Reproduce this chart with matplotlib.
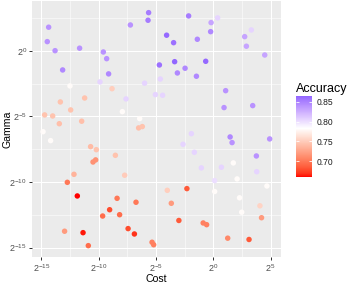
import numpy as np
import matplotlib
matplotlib.use('Agg')
import matplotlib.pyplot as plt
from matplotlib.colors import ListedColormap, Normalize
from matplotlib.ticker import FixedLocator, FuncFormatter

# grid search results, cost and gamma stored as log2 exponents
log2_cost = [-14.36, -14.48, -13.80, -11.66, -9.59, -9.30, -7.23, -5.64, -5.69, -2.15,
             0.38, -0.19, -0.23, -4.07, -3.46, -1.39, 2.74, 3.32, 2.89, 4.49,
             -4.70, -3.37, -0.66, -13.14, -12.50, -9.13, -9.88, -8.83, -11.22, -13.34,
             -12.44, -14.71, -14.01, -13.43, -11.48, -7.61, -7.93, -5.99, -5.05, -6.42,
             -6.51, -6.19, -2.46, -3.13, -1.47, -4.62, -4.42, 1.08, 0.94, 3.44,
             -14.85, -14.19, -10.70, -10.20, -10.49, -10.26, -8.54, -12.15, -12.73, -7.73,
             -1.91, -2.64, 1.47, 1.64, 4.92, -1.65, 3.76, 1.75, -1.04, 0.71,
             3.79, 2.08, 0.12, -2.30, -4.01, 0.12, 4.68, -11.86, -8.39, -6.74,
             -9.04, -9.65, -8.17, -12.97, -11.36, -10.90, -7.43, -6.88, -5.34, -5.20,
             -3.66, -3.00, -0.88, -0.58, 1.26, 3.12, 2.29, 2.48, 4.07, 4.21]
log2_gamma = [1.81, 0.71, 0.02, 0.21, -0.08, -0.59, 1.98, 2.92, 2.34, 2.67,
              2.52, 2.16, 1.47, 1.20, 0.63, 0.89, 1.09, 1.60, 0.36, -0.31,
              -1.07, -0.82, -0.79, -1.45, -2.67, -1.75, -2.36, -2.88, -3.59, -3.89,
              -4.50, -4.88, -4.96, -5.55, -5.36, -3.66, -4.63, -2.46, -3.33, -5.16,
              -5.87, -5.77, -1.32, -1.68, -1.93, -2.14, -3.38, -3.03, -4.32, -4.17,
              -6.16, -6.84, -7.30, -7.53, -8.47, -8.31, -7.96, -9.41, -10.02, -9.48,
              -6.31, -7.12, -6.56, -6.99, -6.71, -7.73, -8.01, -8.54, -8.92, -8.87,
              -9.21, -9.76, -9.89, -10.50, -10.63, -10.72, -10.30, -11.06, -11.24, -11.54,
              -12.11, -12.59, -12.49, -13.75, -13.86, -14.85, -13.55, -13.96, -14.59, -14.78,
              -11.62, -12.93, -13.12, -13.25, -14.28, -14.38, -11.20, -12.30, -11.81, -12.72]
accuracy = [0.84, 0.84, 0.84, 0.84, 0.84, 0.84, 0.84, 0.852, 0.852, 0.852,
            0.805, 0.83, 0.845, 0.862, 0.858, 0.845, 0.83, 0.805, 0.83, 0.83,
            0.858, 0.864, 0.862, 0.845, 0.78, 0.845, 0.805, 0.752, 0.745, 0.745,
            0.745, 0.745, 0.745, 0.742, 0.742, 0.805, 0.78, 0.805, 0.805, 0.78,
            0.742, 0.745, 0.845, 0.845, 0.845, 0.805, 0.805, 0.84, 0.84, 0.84,
            0.78, 0.78, 0.74, 0.745, 0.715, 0.715, 0.745, 0.735, 0.70, 0.75,
            0.805, 0.805, 0.845, 0.84, 0.84, 0.805, 0.84, 0.78, 0.805, 0.805,
            0.805, 0.78, 0.80, 0.685, 0.752, 0.78, 0.78, 0.661, 0.70, 0.70,
            0.68, 0.695, 0.695, 0.72, 0.664, 0.695, 0.68, 0.67, 0.705, 0.705,
            0.72, 0.685, 0.705, 0.705, 0.71, 0.685, 0.78, 0.78, 0.755, 0.72]
x_ticks = [-15, -10, -5, 0, 5]
y_ticks = [-15, -10, -5, 0]
acc_ticks = [0.70, 0.75, 0.80, 0.85]
midpoint = 0.783


def srgb_to_lab(rgb):
    rgb = np.asarray(rgb, float)
    lin = np.where(rgb <= 0.04045, rgb / 12.92, ((rgb + 0.055) / 1.055) ** 2.4)
    M = np.array([[0.4124564, 0.3575761, 0.1804375],
                  [0.2126729, 0.7151522, 0.0721750],
                  [0.0193339, 0.1191920, 0.9503041]])
    xyz = M @ lin / np.array([0.95047, 1.0, 1.08883])
    d = 6 / 29
    f = np.where(xyz > d ** 3, np.cbrt(xyz), xyz / (3 * d ** 2) + 4 / 29)
    return np.array([116 * f[1] - 16, 500 * (f[0] - f[1]), 200 * (f[1] - f[2])])


def lab_to_srgb(lab):
    L, a, b = lab
    fy = (L + 16) / 116
    f = np.array([fy + a / 500, fy, fy - b / 200])
    d = 6 / 29
    xyz = np.where(f > d, f ** 3, 3 * d ** 2 * (f - 4 / 29)) * np.array([0.95047, 1.0, 1.08883])
    Minv = np.array([[3.2404542, -1.5371385, -0.4985314],
                     [-0.9692660, 1.8760108, 0.0415560],
                     [0.0556434, -0.2040259, 1.0572252]])
    lin = np.clip(Minv @ xyz, 0, 1)
    rgb = np.where(lin <= 0.0031308, 12.92 * lin, 1.055 * lin ** (1 / 2.4) - 0.055)
    return np.clip(rgb, 0, 1)


# red - white - blue ramp in Lab, like scale_colour_gradient2
low, mid, high = srgb_to_lab([1, 0, 0]), srgb_to_lab([1, 1, 1]), srgb_to_lab([0, 0, 1])
amin, amax = min(accuracy), max(accuracy)
half = max(abs(amin - midpoint), abs(amax - midpoint))
colors = []
for v in np.linspace(amin, amax, 256):
    t = (v - midpoint) / (2 * half) + 0.5
    if t < 0.5:
        lab = low + (mid - low) * (t / 0.5)
    else:
        lab = mid + (high - mid) * ((t - 0.5) / 0.5)
    colors.append(lab_to_srgb(lab))
cmap = ListedColormap(colors)
norm = Normalize(amin, amax)

plt.rcParams['font.family'] = ['Liberation Sans', 'DejaVu Sans']
plt.rcParams['mathtext.fontset'] = 'custom'
plt.rcParams['mathtext.rm'] = 'Liberation Sans'
plt.rcParams['mathtext.default'] = 'regular'

W, H = 350, 284
fig = plt.figure(figsize=(W / 72, H / 72), dpi=72)
ax = fig.add_axes([31.7 / W, 1 - 257.3 / H, 249.3 / W, 256.3 / H])
ax.set_facecolor('#EBEBEB')

cost = 2.0 ** np.array(log2_cost)
gamma = 2.0 ** np.array(log2_gamma)
ax.scatter(cost, gamma, c=accuracy, cmap=cmap, norm=norm, s=30, linewidths=0, zorder=3)

ax.set_xscale('log', base=2)
ax.set_yscale('log', base=2)
xr = max(log2_cost) - min(log2_cost)
yr = max(log2_gamma) - min(log2_gamma)
ax.set_xlim(2 ** (min(log2_cost) - 0.05 * xr), 2 ** (max(log2_cost) + 0.05 * xr))
ax.set_ylim(2 ** (min(log2_gamma) - 0.05 * yr), 2 ** (max(log2_gamma) + 0.05 * yr))

fmt = FuncFormatter(lambda v, p: r'$2^{%d}$' % round(np.log2(v)))
ax.xaxis.set_major_locator(FixedLocator([2.0 ** e for e in x_ticks]))
ax.yaxis.set_major_locator(FixedLocator([2.0 ** e for e in y_ticks]))
ax.xaxis.set_minor_locator(FixedLocator([2.0 ** (e + 2.5) for e in x_ticks]))
ax.yaxis.set_minor_locator(FixedLocator([2.0 ** (e + 2.5) for e in y_ticks]))
ax.xaxis.set_major_formatter(fmt)
ax.yaxis.set_major_formatter(fmt)
ax.xaxis.set_minor_formatter(FuncFormatter(lambda v, p: ''))
ax.yaxis.set_minor_formatter(FuncFormatter(lambda v, p: ''))
ax.tick_params(which='major', length=2.75, width=1, color='#333333',
               labelcolor='#4D4D4D', labelsize=9, pad=2)
ax.tick_params(which='minor', length=0)
ax.grid(which='major', color='white', lw=1.07)
ax.grid(which='minor', color='white', lw=0.55)
ax.set_axisbelow(True)
for sp in ax.spines.values():
    sp.set_visible(False)

fig.text(156.3 / W, 1 - 282 / H, 'Cost', ha='center', va='baseline', fontsize=10.5)
fig.text(7.5 / W, 1 - 129 / H, 'Gamma', ha='center', va='center', rotation=90, fontsize=10.5)

# colourbar legend
cax = fig.add_axes([296 / W, 1 - 177 / H, 16 / W, 81 / H])
sm = plt.cm.ScalarMappable(cmap=cmap, norm=norm)
cb = fig.colorbar(sm, cax=cax, ticks=acc_ticks)
cb.outline.set_visible(False)
cb.ax.set_yticklabels(['%.2f' % t for t in acc_ticks])
cb.ax.tick_params(left=True, right=True, direction='in', color='white', length=3.2,
                  width=0.8, labelsize=8.5, labelcolor='#1A1A1A', pad=5)
fig.text(296 / W, 1 - 91.7 / H, 'Accuracy', ha='left', va='baseline', fontsize=12.5)

fig.savefig('out.png', dpi=72)
